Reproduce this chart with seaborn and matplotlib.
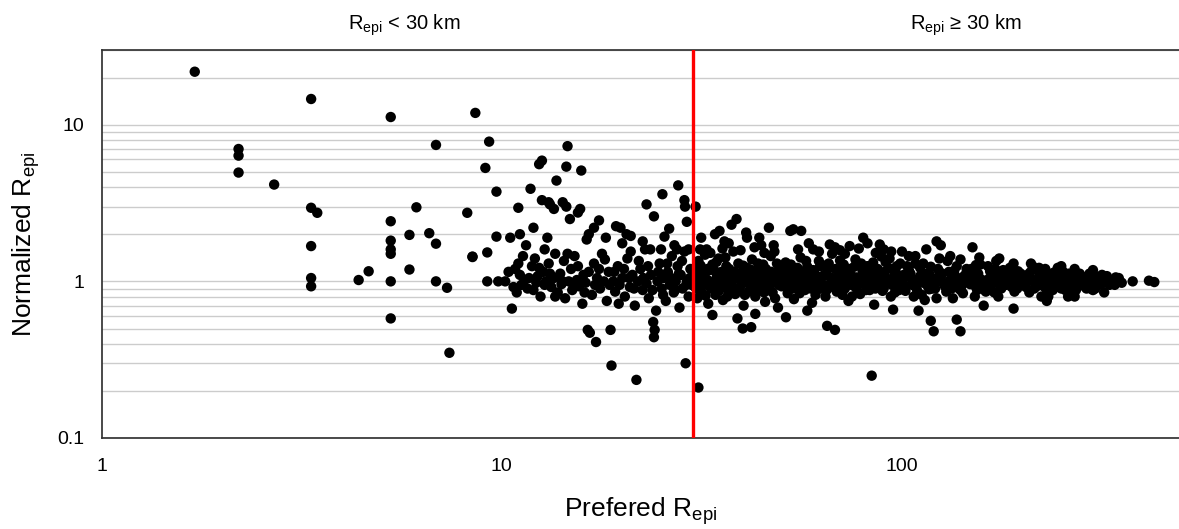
import numpy as np
import pandas as pd
import matplotlib
matplotlib.use("Agg")
import matplotlib.pyplot as plt
from matplotlib.ticker import LogLocator, FixedLocator, FixedFormatter, NullFormatter
import seaborn as sns

# ---------------- data ----------------
threshold_km = 30

# R < 10 km
x_near = [1.71, 2.20, 2.20, 2.20, 2.70, 3.34, 3.34, 3.46, 3.34, 3.34, 3.34,
          5.28, 5.28, 5.28, 5.28, 5.28, 5.28, 5.28, 6.12, 5.88, 6.59, 6.85, 6.85,
          6.85, 8.20, 8.59, 8.45, 8.45, 4.39, 4.65, 5.88, 7.30, 7.40,
          9.3, 9.1, 9.7, 9.7, 9.2, 9.2, 9.8]
y_near = [21.8, 7.0, 6.35, 4.95, 4.15, 14.6, 2.95, 2.74, 1.68, 1.05, 0.93,
          11.2, 2.42, 1.82, 1.6, 1.5, 1.0, 0.58, 2.97, 1.98, 2.03, 7.43, 1.74,
          1.0, 2.74, 11.9, 1.44, 1.43, 1.02, 1.16, 1.19, 0.91, 0.35,
          7.8, 5.3, 3.74, 1.93, 1.53, 1.0, 1.0]

# 10 - 30 km, scattered high values
x_mid_hi = [11.0, 11.1, 11.8, 12.0, 12.4, 12.6, 12.6, 13.1, 13.2, 13.7, 13.5,
            14.2, 14.5, 14.6, 14.5, 14.8, 15.7, 15.5, 15.8, 16.5, 17.5, 17.0,
            18.2, 19.3, 19.8, 20.5, 21.0, 23.0, 25.2, 27.6, 28.6, 28.7, 26.2,
            25.5, 24.0, 22.5, 20.0, 16.3, 13.0, 10.5, 11.5, 12.8, 29.0, 29.3,
            27.0, 23.5]
y_mid_hi = [2.95, 2.0, 3.9, 2.2, 5.6, 5.9, 3.3, 3.2, 3.1, 4.4, 2.9,
            3.2, 3.0, 7.3, 5.4, 2.5, 2.9, 2.75, 5.1, 2.0, 2.45, 2.2,
            1.9, 2.25, 2.2, 2.0, 1.95, 3.1, 3.6, 4.1, 3.3, 3.0, 2.17,
            1.93, 2.6, 1.8, 1.75, 1.85, 1.9, 1.9, 1.7, 1.6, 2.4, 1.6,
            1.7, 1.6]

# 10 - 30 km, main cloud
x_mid = [10.2, 10.6, 10.8, 10.9, 11.0, 11.1, 11.2, 11.4, 11.6, 11.9, 12.1, 12.2,
         12.3, 12.5, 12.7, 12.9, 13.1, 13.3, 13.5, 13.6, 13.8, 14.0, 14.1, 14.3,
         14.4, 14.7, 14.9, 15.0, 15.2, 15.4, 15.6, 15.9, 16.0, 16.2, 16.4, 16.6,
         16.8, 17.0, 17.2, 17.3, 17.6, 17.8, 18.0, 18.3, 18.5, 18.7, 18.8, 19.0,
         19.2, 19.5, 19.7, 20.0, 20.3, 20.6, 20.9, 21.2, 21.5, 21.7, 21.9, 22.2,
         22.5, 22.8, 23.0, 23.3, 23.6, 23.9, 24.1, 24.0, 24.3, 24.5, 24.8, 25.1,
         25.4, 25.7, 26.0, 26.3, 26.6, 26.9, 27.2, 27.5, 27.8, 28.0, 28.3, 28.8,
         28.6, 29.0, 29.3, 29.6, 29.8,
         10.4, 10.7, 11.3, 11.7, 12.0, 12.4, 12.8, 13.2, 13.6, 14.2, 14.6, 15.1,
         15.5, 16.1, 16.5, 17.1, 17.5, 18.1, 18.6, 19.1, 19.6, 20.2, 20.8, 21.4,
         22.0, 22.6, 23.2, 23.8, 24.6, 25.3, 25.9, 26.5, 27.1, 27.7, 28.2, 28.9,
         29.5, 21.0, 25.0, 27.4]
y_mid = [1.0, 0.67, 1.2, 0.85, 1.3, 1.1, 0.95, 1.02, 0.9, 1.25, 1.4, 0.98,
         1.08, 0.8, 1.15, 1.0, 1.3, 0.92, 1.05, 1.5, 0.85, 1.12, 0.96, 1.35,
         0.78, 1.0, 1.2, 0.88, 1.45, 1.02, 0.93, 0.72, 1.1, 0.98, 0.49, 0.47,
         0.82, 1.3, 0.41, 1.05, 0.9, 1.5, 1.0, 0.75, 1.15, 0.49, 0.29, 1.0,
         0.86, 1.25, 0.95, 1.05, 0.8, 1.4, 0.92, 1.1, 0.7, 0.235, 1.0, 1.2,
         0.88, 1.6, 0.97, 0.78, 1.1, 0.55, 0.49, 0.44, 0.65, 1.0, 1.3, 0.9,
         1.05, 0.75, 1.15, 0.95, 1.45, 0.85, 1.0, 1.25, 0.68, 1.1, 0.9, 0.30,
         1.55, 1.0, 0.8, 1.2, 0.95,
         1.15, 0.92, 1.45, 1.05, 0.88, 1.22, 0.95, 1.12, 0.8, 1.0, 1.5, 0.95,
         1.25, 0.85, 1.15, 0.95, 1.2, 1.38, 0.95, 1.15, 0.72, 1.2, 1.05, 0.9,
         1.35, 1.05, 1.25, 0.88, 1.15, 0.82, 1.3, 1.05, 0.88, 1.12, 1.35, 0.95,
         1.05, 1.55, 1.6, 1.6]

# >= 30 km, outliers
x_far_out = [31.0, 30.5, 31.5, 32.5, 33.6, 35.0, 36.0, 37.5, 38.6, 38.8, 40.0,
             41.0, 42.0, 43.0, 44.5, 46.5, 48.0, 51.3, 52.6, 53.5, 56.0, 58.0,
             60.0, 65.0, 68.0, 68.0, 72.0, 80.0, 82.0, 84.0, 88.0, 90.0, 95.0,
             100.0, 104.0, 110.0, 115.0, 122.0, 125.0, 118.0, 120.0, 137.0,
             140.0, 132.0, 150.0, 160.0, 175.0, 190.0, 210.0, 230.0, 250.0,
             270.0, 300.0, 320.0]
y_far_out = [0.21, 3.0, 1.9, 1.6, 0.61, 2.1, 1.8, 2.3, 2.5, 0.58, 0.50,
             1.9, 0.51, 0.62, 1.7, 2.2, 1.55, 0.59, 2.1, 2.15, 2.1, 0.65,
             1.6, 0.52, 0.49, 1.65, 1.5, 1.9, 1.75, 0.25, 1.72, 1.6, 0.66,
             1.55, 1.45, 0.65, 1.6, 1.8, 1.7, 0.56, 0.48, 0.57,
             0.48, 1.45, 1.65, 0.7, 1.4, 0.67, 1.3, 0.75, 1.25,
             0.8, 1.18, 0.85]

# >= 30 km, main band
x_far = [30.2, 30.4, 30.6, 30.8, 31.0, 31.2, 31.5, 31.7, 32.0, 32.2, 32.5, 32.8,
         33.0, 33.3, 33.6, 33.9, 34.2, 34.5, 34.8, 35.1, 35.4, 35.7, 36.0, 36.4,
         36.8, 37.1, 37.5, 37.9, 38.3, 38.6, 39.0, 39.4, 39.8, 40.2, 40.6, 41.0,
         41.4, 41.8, 42.2, 42.6, 43.0, 43.5, 44.0, 44.5, 45.0, 45.5, 46.0, 46.5,
         47.0, 47.5, 48.0, 48.5, 49.0, 49.5, 50.0,
         30.3, 30.7, 31.1, 31.4, 31.9, 32.3, 32.7, 33.1, 33.5, 34.0, 34.4, 34.9,
         35.3, 35.8, 36.2, 36.6, 37.0, 37.4, 37.8, 38.2, 38.9, 39.3, 39.7, 40.1,
         40.5, 40.9, 41.3, 41.7, 42.1, 42.5, 43.2, 43.7, 44.2, 44.7, 45.2, 45.7,
         46.2, 46.7, 47.2, 47.7, 48.2, 48.7, 49.2, 49.7, 31.3, 33.2, 35.6, 36.9,
         39.5, 42.8, 45.3, 47.8, 34.1, 40.8, 44.0,
         50.6, 51.2, 51.8, 52.4, 53.0, 53.7, 54.4, 55.1, 55.8, 56.5, 57.2, 58.0,
         58.8, 59.6, 60.4, 61.2, 62.0, 62.8, 63.6, 64.4, 65.2, 66.0, 66.9, 67.8,
         68.7, 69.6, 70.5, 71.5, 72.5, 73.5, 74.5, 75.5, 76.5, 77.5, 78.6, 79.7,
         80.8, 81.9, 83.0, 84.1, 85.2, 86.4, 87.6, 88.8, 90.0, 91.2, 92.5, 93.8,
         95.1, 96.4, 97.7, 99.0, 52.0, 57.0, 61.0, 64.0, 67.0, 71.0, 74.0, 77.0,
         82.0, 86.0, 91.0, 96.0,
         50.3, 51.0, 51.6, 52.8, 53.4, 54.0, 54.8, 55.5, 56.2, 56.9, 57.6, 58.4,
         59.2, 60.0, 60.8, 61.6, 62.4, 63.2, 64.0, 64.8, 65.6, 66.4, 67.3, 68.2,
         69.1, 70.0, 71.0, 72.0, 73.0, 74.0, 75.0, 76.0, 77.0, 78.0, 79.1, 80.2,
         81.3, 82.5, 83.6, 84.7, 85.8, 87.0, 88.2, 89.4, 90.6, 91.8, 93.1, 94.4,
         95.7, 97.0, 98.3, 99.6, 55.0, 62.0, 70.0, 78.0, 86.0, 94.0, 58.5, 66.0,
         74.0,
         100.5, 102, 104, 106, 108, 110, 112, 114, 116, 118, 120, 122, 124, 127,
         130, 133, 136, 139, 142, 145, 148, 151, 154, 157, 160, 163, 166, 170,
         174, 178, 182, 186, 190, 194, 198, 105, 111, 117, 123, 129, 135, 141,
         147, 153, 159, 165, 171, 177, 184, 192, 101, 107, 113, 119, 126, 132,
         138, 144, 150, 156, 162, 168, 175, 181, 188, 196,
         101, 103, 105, 107, 109, 111, 113, 115, 117, 119, 121, 123, 125, 128,
         131, 134, 137, 140, 143, 146, 149, 152, 155, 158, 161, 164, 167, 169,
         172, 176, 179, 183, 187, 191, 195, 199, 108, 124, 140, 156, 172, 190,
         114, 134, 152, 170,
         202, 206, 210, 214, 218, 222, 226, 230, 235, 240, 245, 250, 255, 260,
         265, 270, 276, 282, 288, 294, 300, 306, 312, 318, 325, 332, 340, 348,
         354, 208, 216, 228, 238, 248, 258, 268, 278, 290, 304, 316, 330, 344,
         212, 232, 252, 272, 296, 322, 377, 414, 427,
         201, 204, 209, 213, 217, 221, 225, 229, 233, 237, 242, 246, 251, 256,
         261, 266, 271, 277, 283, 289, 295, 301, 308, 314, 320, 327, 334, 342,
         350, 220, 245, 270, 300, 223, 260]
y_far = [1.05, 0.92, 1.22, 0.78, 1.35, 1.0, 0.86, 1.12, 0.95, 1.48, 1.03, 0.72,
         1.18, 0.9, 1.28, 0.98, 0.82, 1.08, 1.4, 0.94, 1.15, 0.76, 1.02, 1.25,
         0.88, 1.1, 0.97, 1.55, 0.83, 1.05, 1.3, 0.92, 1.14, 0.7, 1.0, 1.22,
         0.86, 1.07, 1.38, 0.95, 0.8, 1.16, 1.01, 0.9, 1.28, 0.74, 1.09, 0.96,
         1.45, 0.85, 1.12, 1.0, 0.68, 1.2, 0.93,
         1.15, 0.98, 0.88, 1.26, 1.07, 0.81, 1.2, 1.0, 0.93, 1.17, 1.33, 0.87,
         1.05, 0.99, 1.42, 0.8, 1.2, 1.02, 0.91, 1.15, 0.86, 1.08, 0.98, 1.26,
         0.82, 1.12, 1.0, 0.94, 1.18, 1.05, 0.87, 1.3, 0.95, 1.1, 0.85, 1.2,
         1.0, 0.9, 1.15, 1.05, 0.78, 1.3, 0.95, 1.08, 1.6, 1.52, 1.62, 1.75,
         1.58, 1.65, 1.52, 1.7, 2.0, 2.05, 1.9,
         1.06, 1.32, 0.84, 1.0, 1.18, 0.77, 1.1, 0.95, 1.42, 1.03, 0.88, 1.24,
         0.98, 0.73, 1.13, 1.0, 1.35, 0.9, 1.08, 0.8, 1.2, 0.96, 1.5, 1.04,
         0.86, 1.15, 0.92, 1.28, 1.0, 0.75, 1.1, 0.94, 1.38, 1.02, 0.83, 1.17,
         0.97, 1.25, 0.88, 1.06, 0.71, 1.12, 0.99, 1.44, 0.9, 1.05, 1.22, 0.8,
         1.0, 1.15, 0.93, 1.3, 0.92, 1.12, 0.87, 1.26, 0.99, 0.82, 1.2, 0.9,
         1.05, 0.95, 1.33, 0.85,
         1.2, 0.95, 1.1, 1.28, 0.9, 1.02, 1.22, 0.84, 1.15, 0.97, 1.35, 1.06,
         0.9, 1.18, 0.82, 1.07, 1.25, 0.96, 1.1, 0.88, 1.3, 1.06, 0.92, 1.2,
         1.0, 1.36, 1.08, 0.9, 1.15, 1.02, 0.8, 1.24, 1.06, 0.96, 1.3, 1.1,
         0.88, 1.18, 1.0, 1.32, 0.9, 1.2, 1.05, 0.87, 1.15, 1.0, 1.4, 0.95,
         1.1, 1.25, 0.88, 1.06, 1.6, 1.55, 1.58, 1.62, 1.52, 1.55, 1.75, 1.72,
         1.68,
         1.02, 0.87, 1.18, 0.95, 1.3, 1.0, 0.82, 1.12, 0.93, 1.24, 1.04, 0.78, 1.15, 0.97,
         1.35, 0.9, 1.08, 1.0, 0.84, 1.2, 0.96, 1.1, 0.88, 1.28, 1.01, 0.92, 1.16, 0.99,
         0.8, 1.1, 0.95, 1.22, 1.03, 0.9, 1.12, 1.06, 1.22, 0.89, 1.0, 0.86, 1.17, 0.94,
         1.06, 1.27, 0.91, 1.04, 1.2, 0.9, 1.06, 0.97, 1.1, 0.8, 0.98, 0.9, 1.12, 1.02,
         0.91, 1.1, 0.98, 1.05, 0.86, 1.07, 1.0, 1.14, 0.92, 1.04,
         0.95, 1.25, 1.12, 1.0, 0.88, 1.08, 1.3, 0.98, 1.12, 1.02, 0.9, 1.2, 1.05, 0.93,
         1.15, 1.0, 1.25, 0.88, 1.08, 0.99, 1.2, 0.94, 1.12, 1.02, 0.88, 1.25, 0.95, 1.1,
         1.03, 0.92, 1.18, 0.98, 1.1, 0.86, 1.16, 1.0, 1.45, 1.4, 1.38, 1.42, 1.35, 1.3,
         0.76, 0.78, 0.8, 0.85,
         0.96, 1.1, 1.02, 0.9, 1.18, 1.0, 0.93, 1.07, 0.97, 1.14, 1.0, 0.9, 1.05, 0.95,
         1.1, 1.0, 0.93, 1.07, 0.97, 1.12, 1.0, 0.94, 1.06, 0.98, 1.08, 1.0, 0.95, 1.05,
         0.98, 0.85, 0.98, 1.2, 0.88, 1.08, 1.0, 0.86, 1.12, 1.03, 0.9, 1.1, 0.95, 1.0,
         1.25, 0.8, 1.16, 0.88, 0.9, 1.02, 1.0, 1.01, 0.99,
         1.05, 0.92, 1.14, 1.02, 0.93, 1.1, 1.02, 0.9, 1.12, 1.0, 0.92, 1.1, 1.0, 0.88,
         1.12, 1.02, 0.94, 1.08, 1.0, 0.9, 1.06, 1.1, 1.0, 0.96, 1.05, 1.0, 0.97, 1.06,
         1.0, 1.22, 1.22, 1.2, 0.88, 0.8, 0.8]

x_ticks = [1, 10, 100]
x_tick_labels = ["1", "10", "100"]
y_ticks = [0.1, 1, 10]
y_tick_labels = ["0.1", "1", "10"]

x_all = x_near + x_mid_hi + x_mid + x_far_out + x_far
y_all = y_near + y_mid_hi + y_mid + y_far_out + y_far
df = pd.DataFrame({"pref": x_all, "norm": y_all})

# ---------------- style ----------------
sns.set_style("white")
plt.rcParams["font.family"] = ["Liberation Sans", "DejaVu Sans"]
plt.rcParams["mathtext.default"] = "regular"
plt.rcParams["text.color"] = "black"
plt.rcParams["axes.labelcolor"] = "black"

W, H = 1179, 529
AX_L, AX_T, AX_B = 101.5, 50, 438
fig = plt.figure(figsize=(W / 100, H / 100), dpi=100)
ax = fig.add_axes([AX_L / W, (H - AX_B) / H, (W - AX_L) / W, (AX_B - AX_T) / H])

ax.set_xscale("log")
ax.set_yscale("log")
ax.set_xlim(1, 10 ** ((W - AX_L) / 400.25))
ax.set_ylim(0.1, 30)

ax.yaxis.set_minor_locator(LogLocator(base=10, subs=np.arange(2, 10)))
ax.yaxis.set_minor_formatter(NullFormatter())
ax.grid(False)
ax.grid(True, which="both", axis="y", color="#cccccc", linewidth=1.0)
ax.set_axisbelow(True)

sns.scatterplot(data=df, x="pref", y="norm", ax=ax, color="black",
                s=56, edgecolor="none", linewidth=0, legend=False, zorder=3)

ax.axvline(threshold_km, color="#ff0000", linewidth=2.4, zorder=4)

ax.xaxis.set_major_locator(FixedLocator(x_ticks))
ax.xaxis.set_major_formatter(FixedFormatter(x_tick_labels))
ax.xaxis.set_minor_locator(FixedLocator([]))
ax.yaxis.set_major_locator(FixedLocator(y_ticks))
ax.yaxis.set_major_formatter(FixedFormatter(y_tick_labels))

ax.tick_params(axis="both", which="major", direction="out", length=3.6, width=1,
               color="#333333", labelsize=14, labelcolor="black")
ax.tick_params(axis="x", which="major", pad=10.5)
ax.tick_params(axis="y", which="major", pad=8.5)
ax.tick_params(axis="both", which="minor", length=0)

for side in ["left", "bottom", "top"]:
    ax.spines[side].set_visible(True)
    ax.spines[side].set_color("#333333")
    ax.spines[side].set_linewidth(1.25)
ax.spines["right"].set_visible(False)

ax.set_xlabel("Prefered R$_{epi}$", fontsize=19, color="black")
ax.xaxis.label.set_va("baseline")
ax.xaxis.set_label_coords(0.5, (AX_B - 517) / (AX_B - AX_T))
ax.set_ylabel("Normalized R$_{epi}$", fontsize=19, color="black")
ax.yaxis.set_label_coords((42 - AX_L) / (W - AX_L), 0.5)

fig.text(404 / W, 1 - 29.3 / H, "R$_{epi}$ < 30 km", ha="center", va="baseline",
         fontsize=14.5, color="black")
fig.text(966 / W, 1 - 29.3 / H, "R$_{epi}$ \u2265 30 km", ha="center", va="baseline",
         fontsize=14.5, color="black")

fig.savefig("out.png", dpi=100, facecolor="white")
